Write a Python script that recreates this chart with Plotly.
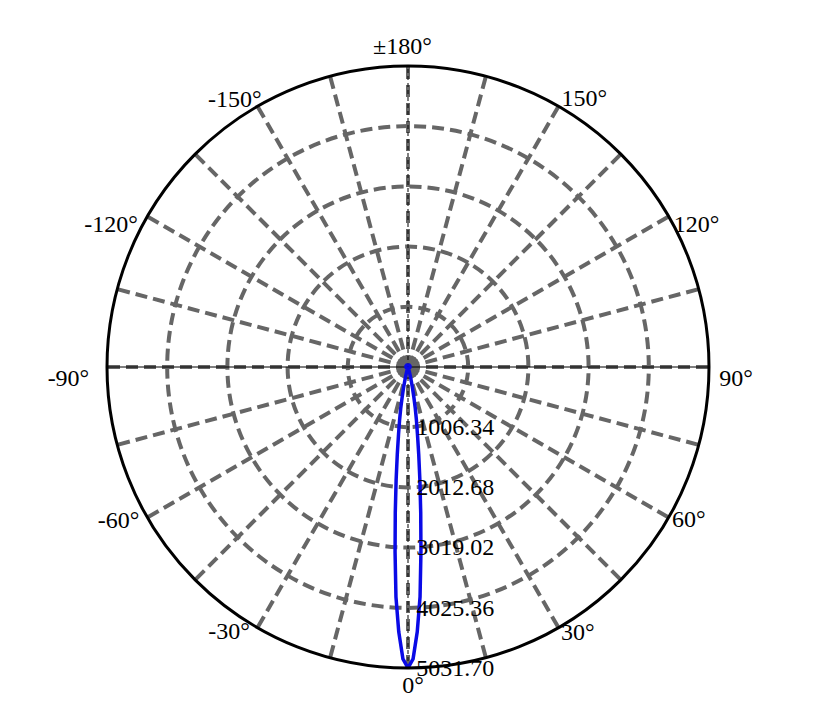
import plotly.graph_objects as go

# luminous intensity curve (cd)
theta = [-180, -150, -120, -90, -60, -40, -30, -25, -20, -18, -16, -15, -14, -13, -12,
         -11, -10, -9, -8, -7, -6, -5, -4, -3, -2, -1, 0,
         1, 2, 3, 4, 5, 6, 7, 8, 9, 10, 11, 12, 13, 14, 15, 16, 18, 20, 25, 30,
         40, 60, 90, 120, 150, 180]
intensity = [40, 40, 38, 35, 32, 30, 30, 32, 38, 50, 80, 115, 170, 250, 360,
             510, 700, 900, 1140, 1470, 1900, 2440, 3100, 3850, 4430, 4880, 5031.7,
             4880, 4430, 3850, 3100, 2440, 1900, 1470, 1140, 900, 700, 510, 360, 250, 170, 115, 80, 50, 38, 32, 30,
             30, 32, 35, 38, 40, 40]

r_ticks = [1006.34, 2012.68, 3019.02, 4025.36, 5031.70]
r_labels = ["1006.34", "2012.68", "3019.02", "4025.36", "5031.70"]

ang_ticks = [0, 30, 60, 90, 120, 150, 180, -150, -120, -90, -60, -30]
ang_labels = ["0°", "30°", "60°", "90°", "120°", "150°", "±180°",
              "-150°", "-120°", "-90°", "-60°", "-30°"]

r_max = r_ticks[-1]
grid = "#666666"
serif = "Liberation Serif, Times New Roman, serif"

# where each angle label sits (angle nudge in degrees, radius as a fraction of the outer circle)
label_nudge = [0.9, 2.5, 1.2, -2.3, -4.0, -3.5, 1.0, 3.1, 4.6, 2.2, -1.9, -3.9]
label_rfrac = [1.063, 1.05, 1.065, 1.091, 1.067, 1.062, 1.06, 1.053, 1.092, 1.129, 1.09, 1.066]

# geometry: page size, circle centre (from top-left of the plot div) and radius in px
W, H = 813, 707
cx, cy, R = 400, 359, 301
k = 1.15  # the label layer is a larger, invisible polar sharing the same centre and scale


def square_domain(radius):
    return dict(x=[(cx - radius) / W, (cx + radius) / W],
                y=[(H - cy - radius) / H, (H - cy + radius) / H])


fig = go.Figure()
# thin black cross lines through the centre
fig.add_trace(go.Scatterpolar(r=[r_max, 0, r_max], theta=[0, 0, 180], mode="lines",
                              line=dict(color="black", width=1, dash="4px,3px"),
                              hoverinfo="skip"))
fig.add_trace(go.Scatterpolar(r=[r_max, 0, r_max], theta=[90, 0, 270], mode="lines",
                              line=dict(color="black", width=1),
                              hoverinfo="skip"))
fig.add_trace(go.Scatterpolar(r=intensity, theta=theta, mode="lines",
                              line=dict(color="#0a0ae6", width=3.5)))
# angle labels
fig.add_trace(go.Scatterpolar(
    r=[f * r_max for f in label_rfrac],
    theta=[t + n for t, n in zip(ang_ticks, label_nudge)],
    mode="text", text=ang_labels, textposition="middle center",
    textfont=dict(family=serif, size=24, color="black"),
    cliponaxis=False, hoverinfo="skip", subplot="polar2"))

fig.update_layout(
    width=W, height=H,
    margin=dict(l=0, r=0, t=0, b=0),
    paper_bgcolor="white",
    showlegend=False,
    polar=dict(
        domain=square_domain(R),
        bgcolor="white",
        angularaxis=dict(
            rotation=-90, direction="counterclockwise",
            tickmode="array", tickvals=list(range(0, 360, 15)),
            showticklabels=False,
            ticks="", showline=True, linecolor="black", linewidth=3,
            gridcolor=grid, gridwidth=3.5, griddash="12px,6px",
        ),
        radialaxis=dict(
            range=[0, r_max], tickmode="array", tickvals=r_ticks, ticktext=r_labels,
            angle=-90, tickangle=-90, side="counterclockwise",
            ticks="outside", ticklen=3, tickcolor="rgba(0,0,0,0)", showline=False,
            gridcolor=grid, gridwidth=3.5, griddash="12px,6px",
            tickfont=dict(family=serif, size=24, color="black"),
        ),
    ),
    polar2=dict(
        domain=square_domain(R * k),
        bgcolor="rgba(0,0,0,0)",
        angularaxis=dict(rotation=-90, direction="counterclockwise", visible=False),
        radialaxis=dict(range=[0, r_max * k], visible=False),
    ),
)

fig.write_html("out.html")
